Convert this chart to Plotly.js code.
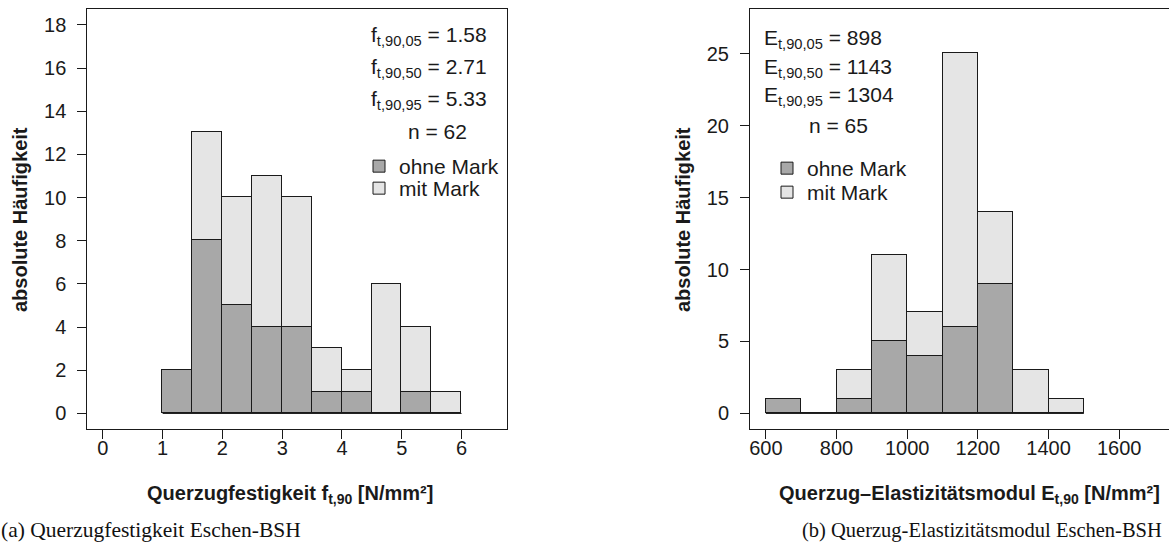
<!DOCTYPE html>
<html><head><meta charset="utf-8">
<script src="https://cdn.plot.ly/plotly-3.0.1.min.js"></script>
<style>html,body{margin:0;padding:0;background:#fff}#chart{width:1169px;height:547px}</style>
</head><body><div id="chart"></div>
<script>
// ---- (a) Querzugfestigkeit f_t,90 [N/mm²] ----
const ftBinEdges = [1.0, 1.5, 2.0, 2.5, 3.0, 3.5, 4.0, 4.5, 5.0, 5.5, 6.0];
const ftOhneMark = [2, 8, 5, 4, 4, 1, 1, 0, 1, 0];
const ftMitMark  = [0, 5, 5, 7, 6, 2, 1, 6, 3, 1];
const ftXTicks   = [0, 1, 2, 3, 4, 5, 6];
const ftYTicks   = [0, 2, 4, 6, 8, 10, 12, 14, 16, 18];
const ftStats    = ['f<sub>t,90,05</sub> = 1.58', 'f<sub>t,90,50</sub> = 2.71', 'f<sub>t,90,95</sub> = 5.33'];
const ftN        = 'n = 62';

// ---- (b) Querzug-Elastizitätsmodul E_t,90 [N/mm²] ----
const etBinEdges = [600, 700, 800, 900, 1000, 1100, 1200, 1300, 1400, 1500];
const etOhneMark = [1, 0, 1, 5, 4, 6, 9, 0, 0];
const etMitMark  = [0, 0, 2, 6, 3, 19, 5, 3, 1];
const etXTicks   = [600, 800, 1000, 1200, 1400, 1600];
const etYTicks   = [0, 5, 10, 15, 20, 25];
const etStats    = ['E<sub>t,90,05</sub> = 898', 'E<sub>t,90,50</sub> = 1143', 'E<sub>t,90,95</sub> = 1304'];
const etN        = 'n = 65';

const seriesNames = ['ohne Mark', 'mit Mark'];
const W = 1169, H = 547;
const px = v => v / W, py = v => 1 - v / H;

const centers = e => e.slice(0, -1).map((v, i) => (v + e[i + 1]) / 2);
const widths  = e => e.slice(0, -1).map((v, i) => e[i + 1] - v);

const FONT = 'Liberation Sans, Arial, Helvetica, sans-serif';
const INK = '#1a1a1a';
const DARK = '#a8a8a8', LIGHT = '#e5e5e5';

function barTraces(edges, ohne, mit, xa, ya, legA, legB) {
  const c = centers(edges), w = widths(edges);
  const line = {color: INK, width: 1};
  return [
    {type: 'bar', x: c, y: ohne, width: w, name: seriesNames[0], xaxis: xa, yaxis: ya, legend: legA,
     marker: {color: DARK, line}, hoverinfo: 'x+y+name'},
    {type: 'bar', x: c, y: mit, width: w, name: seriesNames[1], xaxis: xa, yaxis: ya, legend: legB,
     marker: {color: LIGHT, line}, hoverinfo: 'x+y+name'},
    {type: 'scatter', mode: 'lines', x: [edges[0], edges[edges.length - 1]], y: [0, 0],
     xaxis: xa, yaxis: ya, showlegend: false, hoverinfo: 'skip', line: {color: INK, width: 1}}
  ];
}

const data = [
  ...barTraces(ftBinEdges, ftOhneMark, ftMitMark, 'x', 'y', 'legend', 'legend2'),
  ...barTraces(etBinEdges, etOhneMark, etMitMark, 'x2', 'y2', 'legend3', 'legend4')
];

const axBase = {
  ticks: 'outside', ticklen: 9, tickwidth: 1, tickcolor: INK,
  showline: true, linecolor: INK, linewidth: 1,
  showgrid: false, zeroline: false, fixedrange: true,
  tickfont: {family: FONT, size: 20, color: INK}
};
const yDomain = [1 - 429 / H, 1 - 9.3 / H];

const ann = [];
function txt(text, x, y, o) {
  ann.push(Object.assign({text, x: px(x), y: py(y), xref: 'paper', yref: 'paper', showarrow: false,
    xanchor: 'left', yanchor: 'middle', font: {family: FONT, size: 21, color: INK}}, o || {}));
}
// left panel statistics
ftStats.forEach((t, i) => txt(t, 369, [36, 68, 100][i]));
txt(ftN, 406, 132);
// right panel statistics
etStats.forEach((t, i) => txt(t, 762, [39, 68, 96][i]));
txt(etN, 807, 125);
// axis titles
const bold = {family: FONT, size: 20, color: INK, weight: 'bold'};
txt('<b>Querzugfestigkeit f<sub>t,90</sub> [N/mm²]</b>', 290, 494, {xanchor: 'center', font: bold});
txt('<b>Querzug–Elastizitätsmodul E<sub>t,90</sub> [N/mm²]</b>', 1162, 494, {xanchor: 'right', font: bold});
txt('<b>absolute Häufigkeit</b>', 20, 220, {xanchor: 'center', textangle: -90, font: bold});
txt('<b>absolute Häufigkeit</b>', 683, 220, {xanchor: 'center', textangle: -90, font: bold});
// captions
const serif = {family: 'Liberation Serif, Times New Roman, serif', size: 21.5, color: '#111'};
txt('(a) Querzugfestigkeit Eschen-BSH', -1, 530, {font: serif});
txt('(b) Querzug-Elastizitätsmodul Eschen-BSH', 800, 530, {font: Object.assign({}, serif, {size: 20.5})});

const legBase = {xanchor: 'left', yanchor: 'top', bgcolor: 'rgba(0,0,0,0)', borderwidth: 0,
  traceorder: 'normal', font: {family: FONT, size: 21, color: INK}, itemclick: false, itemdoubleclick: false};

const layout = {
  width: W, height: H,
  margin: {l: 0, r: 0, t: 0, b: 0},
  paper_bgcolor: '#fff', plot_bgcolor: '#fff',
  barmode: 'stack', bargap: 0,
  showlegend: true,
  font: {family: FONT, color: INK},
  xaxis:  Object.assign({}, axBase, {domain: [87.3 / W, 507 / W], range: [-0.26, 6.76], tickvals: ftXTicks, anchor: 'y', mirror: true, ticklabelstandoff: -8}),
  yaxis:  Object.assign({}, axBase, {domain: yDomain, range: [-0.72, 18.72], tickvals: ftYTicks, anchor: 'x', mirror: true, ticklabelstandoff: 7}),
  xaxis2: Object.assign({}, axBase, {domain: [750 / W, 1], range: [555, 1741], tickvals: etXTicks, anchor: 'y2', mirror: true, ticklabelstandoff: -8}),
  yaxis2: Object.assign({}, axBase, {domain: yDomain, range: [-1.08, 28.08], tickvals: etYTicks, anchor: 'x2', mirror: false, ticklabelstandoff: 7}),
  legend:  Object.assign({}, legBase, {x: px(359), y: py(146)}),
  legend2: Object.assign({}, legBase, {x: px(359), y: py(168)}),
  legend3: Object.assign({}, legBase, {x: px(767), y: py(148)}),
  legend4: Object.assign({}, legBase, {x: px(767), y: py(172)}),
  annotations: ann
};

Plotly.newPlot('chart', data, layout, {displayModeBar: false, responsive: false});
</script>
</body></html>
